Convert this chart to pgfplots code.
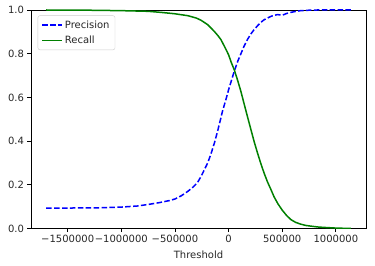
\documentclass[border=0pt]{standalone}
\usepackage{pgfplots}
\pgfplotsset{compat=1.18}
\usepackage{fontspec}
\setmainfont{DejaVu Sans}
\definecolor{mplgreen}{HTML}{008000}
\definecolor{mplblue}{HTML}{0000FF}
\definecolor{txt}{HTML}{262626}
\begin{document}
\begin{tikzpicture}
\begin{axis}[
  scale only axis,
  width=335bp, height=218.5bp,
  xmin=-1842000, xmax=1281000,
  ymin=0, ymax=1,
  scaled x ticks=false, scaled y ticks=false,
  axis line style={black, line width=0.8bp},
  tick style={black, line width=0.8bp},
  tick align=outside,
  major tick length=3.5bp,
  xtick pos=bottom, ytick pos=left,
  xtick={-1500000,-1000000,-500000,0,500000,1000000},
  xticklabels={−1500000,−1000000,−500000,0,500000,1000000},
  ytick={0,0.2,0.4,0.6,0.8,1.0},
  yticklabels={0.0,0.2,0.4,0.6,0.8,1.0},
  ticklabel style={font=\fontsize{10bp}{12bp}\selectfont, text=txt},
  xlabel={Threshold},
  xlabel style={font=\fontsize{10bp}{12bp}\selectfont, text=txt, yshift=-1bp},
  legend cell align=left,
  legend style={at={(0.02,0.975)}, anchor=north west, draw=black!20, rounded corners=2bp,
    font=\fontsize{10bp}{12bp}\selectfont, text=txt, inner xsep=3.5bp, inner ysep=3bp,
    row sep=2bp, /tikz/every even column/.append style={column sep=3bp}},
  legend image code/.code={\draw[#1] plot coordinates {(0bp,0bp)(20bp,0bp)};},
]
\addplot[mplblue, line width=1.5bp, dash pattern=on 5.5bp off 2.4bp] coordinates {
(-1700000,0.093) (-1400000,0.094) (-1200000,0.095) (-1000000,0.098) (-850000,0.103)
(-750000,0.110) (-650000,0.118) (-550000,0.128) (-500000,0.135) (-440000,0.150)
(-380000,0.170) (-330000,0.190) (-290000,0.21) (-255000,0.24) (-225000,0.27)
(-195000,0.30) (-165000,0.34) (-130000,0.395) (-100000,0.45) (-75000,0.50)
(-55000,0.54) (-25000,0.59) (0,0.635) (25000,0.675) (53000,0.72) (85000,0.765)
(115000,0.80) (145000,0.835) (176000,0.865) (207000,0.89) (238000,0.91)
(270000,0.928) (300000,0.943) (330000,0.955) (362000,0.963) (400000,0.972)
(455000,0.979) (500000,0.976) (540000,0.984) (580000,0.989) (630000,0.994)
(672000,0.997) (750000,0.999) (826000,1.0) (1140000,1.0)
};
\addlegendentry{Precision}
\addplot[mplgreen, line width=1.5bp] coordinates {
(-1700000,1.0) (-1300000,0.999) (-1000000,0.997) (-750000,0.994) (-628000,0.989)
(-505000,0.983) (-380000,0.974) (-300000,0.963) (-257000,0.953) (-195000,0.933)
(-133000,0.902) (-100000,0.883) (-71000,0.864) (-35000,0.83) (0,0.795)
(25000,0.76) (53000,0.726) (85000,0.677) (115000,0.627) (145000,0.57)
(176000,0.512) (207000,0.455) (238000,0.398) (270000,0.345) (300000,0.298)
(330000,0.255) (362000,0.214) (395000,0.178) (424000,0.145) (460000,0.113)
(500000,0.084) (540000,0.06) (580000,0.041) (625000,0.028) (672000,0.020)
(720000,0.014) (765000,0.011) (830000,0.007) (889000,0.005) (1000000,0.002)
(1140000,0.0)
};
\addlegendentry{Recall}
\end{axis}
\pgfresetboundingbox
\path[use as bounding box] ([shift={(-31bp,-37.5bp)}]current axis.south west) rectangle ([shift={(9bp,10bp)}]current axis.north east);
\end{tikzpicture}
\end{document}
